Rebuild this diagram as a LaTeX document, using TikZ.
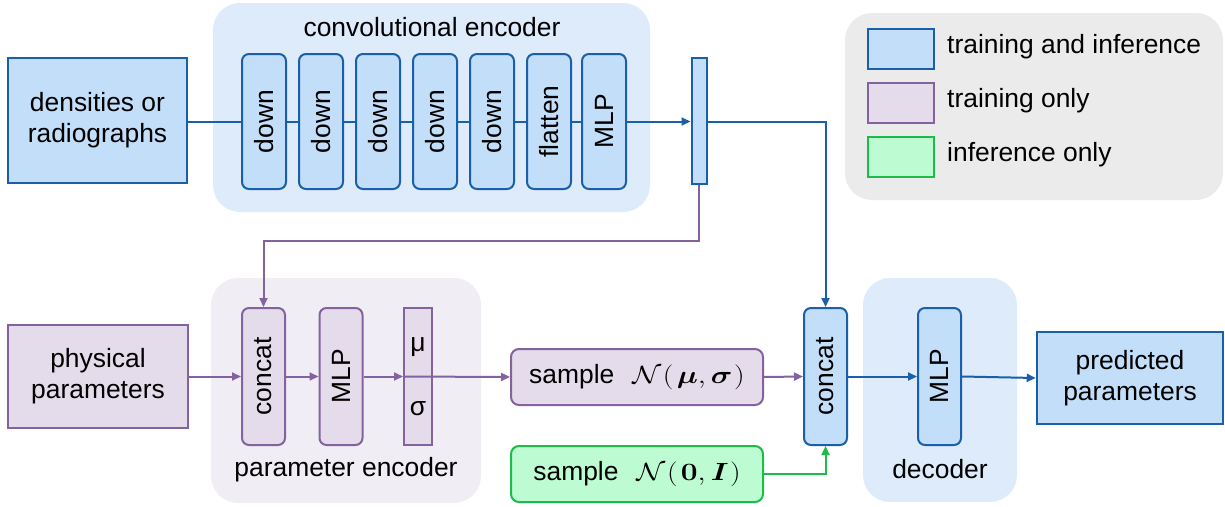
\documentclass[tikz,border=0pt]{standalone}
\usepackage{amsmath}
\usepackage{bm}
\usepackage{graphicx}
\usepackage{fontspec}
\setmainfont{Liberation Sans}
\usetikzlibrary{arrows.meta}
\definecolor{bline}{HTML}{1A5FAA}
\definecolor{bfill}{HTML}{C2DEF8}
\definecolor{bbg}{HTML}{DDEBFA}
\definecolor{pline}{HTML}{8462A0}
\definecolor{pfill}{HTML}{E4DCEA}
\definecolor{pbg}{HTML}{F1EDF4}
\definecolor{gline}{HTML}{1DBB4A}
\definecolor{gfill}{HTML}{BDFCD3}
\definecolor{lgbg}{HTML}{EBEBEB}
\newcommand{\mathbig}[1]{\scalebox{1.2}[1]{\fontsize{32}{36}\selectfont$#1$}}
\begin{document}
\begin{tikzpicture}[x=1pt,y=-1pt,
  every node/.style={font=\fontsize{26.4}{31}\selectfont, align=center, inner sep=0pt},
  bgbox/.style={rounded corners=27pt, draw=none},
  blk/.style={draw=bline, fill=bfill, line width=2pt, rounded corners=7pt, minimum width=44pt, minimum height=135pt},
  pblk/.style={draw=pline, fill=pfill, line width=2pt, rounded corners=7pt, minimum width=43pt, minimum height=137pt},
  bigbox/.style={draw=bline, fill=bfill, line width=2.5pt},
  swatch/.style={line width=2.5pt, minimum width=66pt, minimum height=40pt},
  tip/.style={-{Triangle[length=9pt,width=8pt]}},
  bconn/.style={draw=bline, line width=2pt},
  pconn/.style={draw=pline, line width=2pt},
  gconn/.style={draw=gline, line width=2pt}
]
\useasboundingbox (0,0) rectangle (1225,506);

% backgrounds
\node[bgbox, fill=bbg, minimum width=437pt, minimum height=209pt] (encbg) at (431.5,107.5) {};
\node (enclab) at (432,27) {convolutional encoder};
\node[bgbox, fill=pbg, minimum width=270pt, minimum height=225pt] (parbg) at (346,390.5) {};
\node (parlab) at (346,470) {parameter encoder};
\node[bgbox, fill=bbg, minimum width=154pt, minimum height=224pt] (decbg) at (940,390) {};
\node (declab) at (940,469) {decoder};
\node[bgbox, fill=lgbg, minimum width=378pt, minimum height=187pt] (legbg) at (1034,106.5) {};

% legend
\node[swatch, draw=bline, fill=bfill] (lg1) at (901,49) {};
\node[swatch, draw=pline, fill=pfill] (lg2) at (901,103) {};
\node[swatch, draw=gline, fill=gfill] (lg3) at (901,157) {};
\node[anchor=west] (lt1) at (947,47) {training and inference};
\node[anchor=west] (lt2) at (947,101) {training only};
\node[anchor=west] (lt3) at (947,155) {inference only};

% top row
\node[bigbox, minimum width=179pt, minimum height=125pt] (dens) at (97.5,120.5) {densities or\\radiographs};
\node[blk] (d1) at (264,121.5) {\rotatebox{90}{down}};
\node[blk] (d2) at (321,121.5) {\rotatebox{90}{down}};
\node[blk] (d3) at (378,121.5) {\rotatebox{90}{down}};
\node[blk] (d4) at (435,121.5) {\rotatebox{90}{down}};
\node[blk] (d5) at (492,121.5) {\rotatebox{90}{down}};
\node[blk] (fl) at (549,121.5) {\rotatebox{90}{flatten}};
\node[blk] (em) at (604,121.5) {\rotatebox{90}{MLP}};
\node[draw=bline, fill=bfill, line width=2pt, minimum width=15pt, minimum height=126pt] (zbar) at (699,120.5) {};

\draw[bconn] (dens.east |- d1.west) -- (d1.west);
\draw[bconn] (d1.east) -- (d2.west);
\draw[bconn] (d2.east) -- (d3.west);
\draw[bconn] (d3.east) -- (d4.west);
\draw[bconn] (d4.east) -- (d5.west);
\draw[bconn] (d5.east) -- (fl.west);
\draw[bconn] (fl.east) -- (em.west);
\draw[bconn, tip] (em.east) -- (zbar.west |- em.east);

% lower row
\node[draw=pline, fill=pfill, line width=2.5pt, minimum width=180pt, minimum height=103pt] (phys) at (98,376.5) {physical\\parameters};
\node[pblk] (pc) at (263.5,376.5) {\rotatebox{90}{concat}};
\node[pblk] (pm) at (341,376.5) {\rotatebox{90}{MLP}};
\node[draw=pline, fill=pfill, line width=2pt, minimum width=28pt, minimum height=137pt] (ms) at (418,376.5) {};
\node (mu) at (418,347) {μ};
\node (sg) at (418,409) {σ};
\node[draw=pline, fill=pfill, line width=2pt, rounded corners=8pt, minimum width=252pt, minimum height=56pt] (s1) at (637,377) {sample\hspace{18pt}\mathbig{\mathcal{N}\mkern1mu(\mkern2mu\bm{\mu},\bm{\sigma}\mkern1mu)}};
\node[draw=gline, fill=gfill, line width=2pt, rounded corners=8pt, minimum width=252pt, minimum height=56pt] (s2) at (637,474) {sample\hspace{18pt}\mathbig{\mathcal{N}\mkern1mu(\mkern2mu\bm{0},\bm{I}\mkern1mu)}};
\node[blk, minimum width=43pt, minimum height=137pt] (rc) at (825.5,376.5) {\rotatebox{90}{concat}};
\node[blk, minimum width=43pt, minimum height=137pt] (dm) at (939.5,376.5) {\rotatebox{90}{MLP}};
\node[bigbox, minimum width=186pt, minimum height=92pt] (pred) at (1130,378) {predicted\\parameters};

\draw[pconn, tip] (phys.east) -- (pc.west);
\draw[pconn, tip] (pc.east) -- (pm.west);
\draw[pconn, tip] (pm.east) -- (ms.west);
\draw[pconn, tip] (ms.west) -- (s1.west);
\draw[pconn, tip] (s1.east) -- (rc.west);
\draw[gconn, tip] (s2.east) -| (rc.south);
\draw[bconn, tip] (rc.east) -- (dm.west);
\draw[bconn, tip] (dm.east) -- (pred.west);

% long connectors
\draw[bconn, tip] (zbar.east |- em.east) -| (rc.north);
\draw[pconn, tip] (zbar.south) -- ++(0,56) -| (pc.north);
\end{tikzpicture}
\end{document}
